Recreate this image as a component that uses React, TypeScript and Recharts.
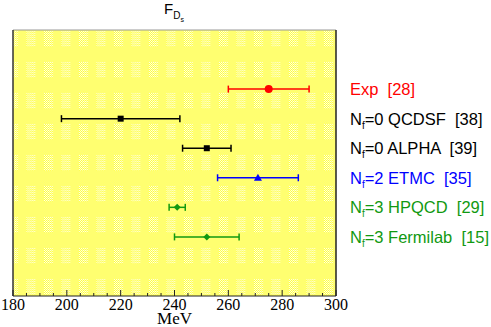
import { ScatterChart, Scatter, XAxis, YAxis, ErrorBar, CartesianGrid } from 'recharts'

// F_Ds comparison, MeV
const LABELS = ['Exp', 'QCDSF', 'ALPHA', 'ETMC', 'HPQCD', 'Fermilab']
const NF = ['', '0', '0', '2', '3', '3']
const REFS = ['[28]', '[38]', '[39]', '[35]', '[29]', '[15]']
const VALUES = [275, 220, 252, 271, 241, 252]
const ERRORS = [15, 22, 9, 15, 3, 12]
const ROWS = [2, 3, 4, 5, 6, 7]
const COLORS = ['#ff0000', '#000000', '#000000', '#0000ff', '#119911', '#119911']
const SHAPES = ['circle', 'square', 'square', 'triangle', 'diamond', 'diamond']
const X_TICKS = [180, 185, 190, 195, 200, 205, 210, 215, 220, 225, 230, 235, 240, 245, 250, 255, 260, 265, 270, 275, 280, 285, 290, 295, 300]

const points = LABELS.map((name, i) => ({
    name,
    x: VALUES[i],
    y: ROWS[i],
    err: ERRORS[i],
}))

const marker = (kind: string, color: string) => (p: any) => {
    const { cx, cy } = p
    if (cx == null || cy == null) return <g />
    if (kind === 'circle') return <circle cx={cx} cy={cy} r={4} fill={color} />
    if (kind === 'square') return <rect x={cx - 3} y={cy - 3} width={6} height={6} fill={color} />
    if (kind === 'triangle')
        return <polygon points={`${cx},${cy - 4} ${cx + 4},${cy + 3} ${cx - 4},${cy + 3}`} fill={color} />
    return <polygon points={`${cx},${cy - 3.5} ${cx + 3.5},${cy} ${cx},${cy + 3.5} ${cx - 3.5},${cy}`} fill={color} />
}

const BottomTick = (p: any) => {
    const { x, y, payload } = p
    const major = payload.value % 20 === 0
    return (
        <g>
            <line x1={x} x2={x} y1={y} y2={y - (major ? 6 : 3)} stroke="#222" />
            {major && (
                <text x={x} y={y + 14} textAnchor="middle" fontFamily="'Liberation Serif', serif" fontSize={16} fill="#000">
                    {payload.value}
                </text>
            )}
        </g>
    )
}

const TopTick = (p: any) => {
    const { x, y, payload } = p
    const major = payload.value % 20 === 0
    return <line x1={x} x2={x} y1={y} y2={y + (major ? 6 : 3)} stroke="#222" />
}

const RightTick = (p: any) => {
    const { x, y, payload } = p
    const i = ROWS.indexOf(payload.value)
    if (i < 0) return <g />
    return (
        <text x={x + 14} y={y + 6} fill={COLORS[i]} fontFamily="'Liberation Sans', Arial, sans-serif" fontSize={16.5} style={{ whiteSpace: 'pre' }}>
            {NF[i] ? (
                <>
                    <tspan>N</tspan>
                    <tspan fontSize={10} dy={4}>f</tspan>
                    <tspan dy={-4}>{`=${NF[i]} ${LABELS[i]}  ${REFS[i]}`}</tspan>
                </>
            ) : (
                <tspan>{`${LABELS[i]}  ${REFS[i]}`}</tspan>
            )}
        </text>
    )
}

export default function App() {
    return (
        <div style={{ position: 'absolute', left: 0, top: 0, width: 491, height: 327, background: '#fff' }}>
            <div
                style={{
                    position: 'absolute',
                    left: 164,
                    top: 0,
                    fontFamily: "'Liberation Sans', Arial, sans-serif",
                    fontSize: 15,
                    color: '#000',
                    lineHeight: '18px',
                }}
            >
                F
                <span style={{ fontSize: 10, position: 'relative', top: 5 }}>
                    D<span style={{ fontSize: 7, position: 'relative', top: 3 }}>s</span>
                </span>
            </div>
            <div
                style={{
                    position: 'absolute',
                    left: 0,
                    width: 349,
                    top: 312,
                    textAlign: 'center',
                    fontFamily: "'Liberation Serif', serif",
                    fontSize: 17,
                    lineHeight: '14px',
                    color: '#000',
                }}
            >
                MeV
            </div>
            <ScatterChart width={491} height={327} margin={{ top: 29, right: 154, bottom: 30, left: 12 }}>
                <defs>
                    <pattern id="chk" width={2} height={2} patternUnits="userSpaceOnUse">
                        <rect width={2} height={2} fill="#ffff22" />
                        <rect width={1} height={1} fill="#ffffff" />
                        <rect x={1} y={1} width={1} height={1} fill="#ffffff" />
                    </pattern>
                    <pattern id="bg" x={9} y={31} width={17.5} height={31} patternUnits="userSpaceOnUse">
                        <rect width={17.5} height={31} fill="#ffff70" />
                        <rect width={9} height={15.5} fill="url(#chk)" />
                    </pattern>
                </defs>
                <CartesianGrid horizontal={false} vertical={false} fill="url(#bg)" />
                <XAxis
                    type="number"
                    dataKey="x"
                    domain={[180, 300]}
                    ticks={X_TICKS}
                    interval={0}
                    height={1}
                    tickSize={0}
                    tickMargin={0}
                    tickLine={false}
                    axisLine={{ stroke: '#222', strokeWidth: 1.2 }}
                    tick={<BottomTick />}
                    allowDataOverflow
                />
                <XAxis
                    xAxisId="top"
                    orientation="top"
                    type="number"
                    domain={[180, 300]}
                    ticks={X_TICKS}
                    interval={0}
                    height={1}
                    tickSize={0}
                    tickMargin={0}
                    tickLine={false}
                    axisLine={{ stroke: '#999', strokeWidth: 1.2 }}
                    tick={<TopTick />}
                    allowDataOverflow
                />
                <YAxis
                    type="number"
                    dataKey="y"
                    domain={[0, 9]}
                    reversed
                    width={1}
                    tick={false}
                    tickLine={false}
                    axisLine={{ stroke: '#333', strokeWidth: 1.5 }}
                    allowDataOverflow
                />
                <YAxis
                    yAxisId="r"
                    orientation="right"
                    type="number"
                    domain={[0, 9]}
                    reversed
                    ticks={ROWS}
                    interval={0}
                    width={1}
                    tickSize={0}
                    tickMargin={0}
                    tickLine={false}
                    axisLine={{ stroke: '#222', strokeWidth: 1.5 }}
                    tick={<RightTick />}
                    allowDataOverflow
                />
                {points.map((pt, i) => (
                    <Scatter
                        key={pt.name}
                        data={[pt]}
                        fill={COLORS[i]}
                        shape={marker(SHAPES[i], COLORS[i])}
                        isAnimationActive={false}
                    >
                        <ErrorBar dataKey="err" direction="x" width={3.5} stroke={COLORS[i]} strokeWidth={1.5} />
                    </Scatter>
                ))}
            </ScatterChart>
        </div>
    )
}
